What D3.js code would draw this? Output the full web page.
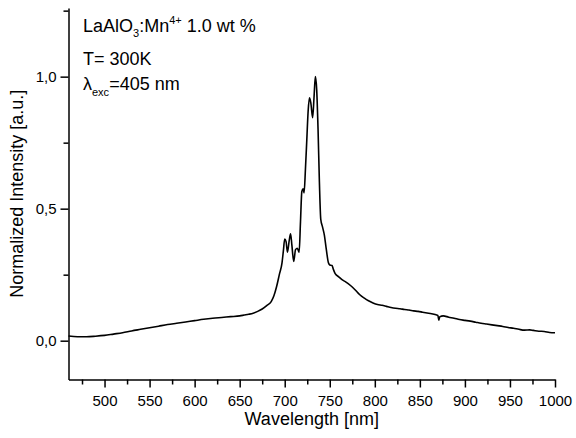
<!DOCTYPE html>
<html>
<head>
<meta charset="utf-8">
<script src="https://cdn.jsdelivr.net/npm/d3@7"></script>
<style>
  body { margin: 0; background: #fff; }
  svg text { font-family: "Liberation Sans", Arial, sans-serif; fill: #000; }
</style>
</head>
<body>
<svg id="chart"></svg>
<script>
// emission spectrum
const wavelength = [460, 470, 480, 490, 500, 510, 520, 530, 540, 550, 560, 570, 580, 590, 600,
  610, 620, 630, 640, 650, 655, 660, 665, 670, 675, 680, 685, 688, 691, 694, 697, 698.5,
  700, 701.5, 703, 705, 706.5, 708, 710, 712, 714, 716, 717.5, 719, 720.5, 721.5, 723,
  724.5, 726, 727.5, 729, 731, 732.5, 734, 735.5, 737, 738.5, 740, 742, 744, 746, 748.5,
  750, 752.5, 754, 756, 760, 764, 768, 773, 778, 783, 788, 793, 798, 803, 808, 813, 818,
  823, 828, 833, 838, 843, 848, 853, 858, 863, 868, 870, 871, 872, 876, 882, 888, 894,
  900, 906, 912, 918, 924, 930, 936, 942, 948, 954, 960, 966, 972, 976, 982, 988, 994, 1000];
const intensity = [0.018, 0.015, 0.015, 0.017, 0.020, 0.025, 0.030, 0.037, 0.043, 0.049, 0.055,
  0.061, 0.066, 0.071, 0.076, 0.081, 0.085, 0.088, 0.091, 0.094, 0.097, 0.100, 0.104, 0.111,
  0.120, 0.133, 0.148, 0.170, 0.205, 0.250, 0.295, 0.340, 0.385, 0.375, 0.335, 0.380, 0.405,
  0.360, 0.300, 0.345, 0.350, 0.335, 0.450, 0.565, 0.575, 0.560, 0.650, 0.760, 0.870, 0.920,
  0.900, 0.845, 0.920, 1.000, 0.950, 0.800, 0.600, 0.460, 0.430, 0.400, 0.350, 0.295, 0.287,
  0.285, 0.270, 0.254, 0.242, 0.230, 0.222, 0.209, 0.193, 0.175, 0.162, 0.151, 0.143, 0.137,
  0.134, 0.130, 0.126, 0.123, 0.121, 0.118, 0.116, 0.113, 0.111, 0.108, 0.105, 0.102, 0.098,
  0.096, 0.078, 0.090, 0.094, 0.089, 0.085, 0.080, 0.077, 0.074, 0.070, 0.066, 0.063, 0.060,
  0.057, 0.054, 0.050, 0.047, 0.043, 0.040, 0.041, 0.039, 0.036, 0.035, 0.031, 0.030];

const xMajor = [500, 550, 600, 650, 700, 750, 800, 850, 900, 950, 1000];
const xMinor = [475, 525, 575, 625, 675, 725, 775, 825, 875, 925, 975];
const yMajor = [0, 0.5, 1.0];
const yMinor = [0.25, 0.75, 1.25];

const width = 576, height = 438;
const plotLeft = 68.5, plotRight = 555, plotTop = 8, plotBottom = 379.5;

const svg = d3.select("#chart")
    .attr("width", width)
    .attr("height", height);

const x = d3.scaleLinear().domain([460, 1000]).range([plotLeft, plotRight]);
const y = d3.scaleLinear().domain([-0.147, 1.26]).range([plotBottom, plotTop]);

const fmt = d => d3.format(".1f")(d).replace(".", ",");

// x axis
svg.append("g")
    .attr("transform", `translate(0,${plotBottom})`)
    .call(d3.axisBottom(x).tickValues(xMinor).tickSize(5).tickFormat(""))
    .call(g => g.select(".domain").remove());
const gx = svg.append("g")
    .attr("transform", `translate(0,${plotBottom})`)
    .call(d3.axisBottom(x).tickValues(xMajor).tickSize(8).tickSizeOuter(0).tickPadding(8)
        .tickFormat(d3.format("d")));
gx.selectAll("text").attr("font-size", 15).attr("font-family", "Liberation Sans, Arial, sans-serif");

// y axis
svg.append("g")
    .attr("transform", `translate(${plotLeft},0)`)
    .call(d3.axisLeft(y).tickValues(yMinor).tickSize(5).tickFormat(""))
    .call(g => g.select(".domain").remove());
const gy = svg.append("g")
    .attr("transform", `translate(${plotLeft},0)`)
    .call(d3.axisLeft(y).tickValues(yMajor).tickSize(8).tickSizeOuter(0).tickPadding(4).tickFormat(fmt));
gy.selectAll("text").attr("font-size", 15).attr("font-family", "Liberation Sans, Arial, sans-serif");

svg.selectAll(".domain, .tick line").attr("stroke", "#000").attr("stroke-width", 1.5);

// spectrum
const line = d3.line()
    .x((d, i) => x(wavelength[i]))
    .y(d => y(d))
    .curve(d3.curveMonotoneX);

svg.append("path")
    .datum(intensity)
    .attr("fill", "none")
    .attr("stroke", "#000")
    .attr("stroke-width", 1.6)
    .attr("stroke-linejoin", "round")
    .attr("d", line);

// axis titles
svg.append("text")
    .attr("x", (plotLeft + plotRight) / 2)
    .attr("y", 425)
    .attr("text-anchor", "middle")
    .attr("font-size", 18)
    .text("Wavelength [nm]");

svg.append("text")
    .attr("transform", `translate(23,${(plotTop + plotBottom) / 2}) rotate(-90)`)
    .attr("text-anchor", "middle")
    .attr("font-size", 18)
    .text("Normalized Intensity [a.u.]");

// annotation
const t1 = svg.append("text").attr("x", 83).attr("y", 32).attr("font-size", 18);
t1.append("tspan").text("LaAlO");
t1.append("tspan").attr("font-size", 11).attr("dy", 5).text("3");
t1.append("tspan").attr("dy", -5).text(":Mn");
t1.append("tspan").attr("font-size", 11).attr("dy", -8).text("4+");
t1.append("tspan").attr("dy", 8).text(" 1.0 wt %");

svg.append("text").attr("x", 83).attr("y", 65).attr("font-size", 18).text("T= 300K");

const t3 = svg.append("text").attr("x", 83).attr("y", 90).attr("font-size", 18);
t3.append("tspan").text("λ");
t3.append("tspan").attr("font-size", 11).attr("dy", 6).text("exc");
t3.append("tspan").attr("dy", -6).text("=405 nm");
</script>
</body>
</html>
